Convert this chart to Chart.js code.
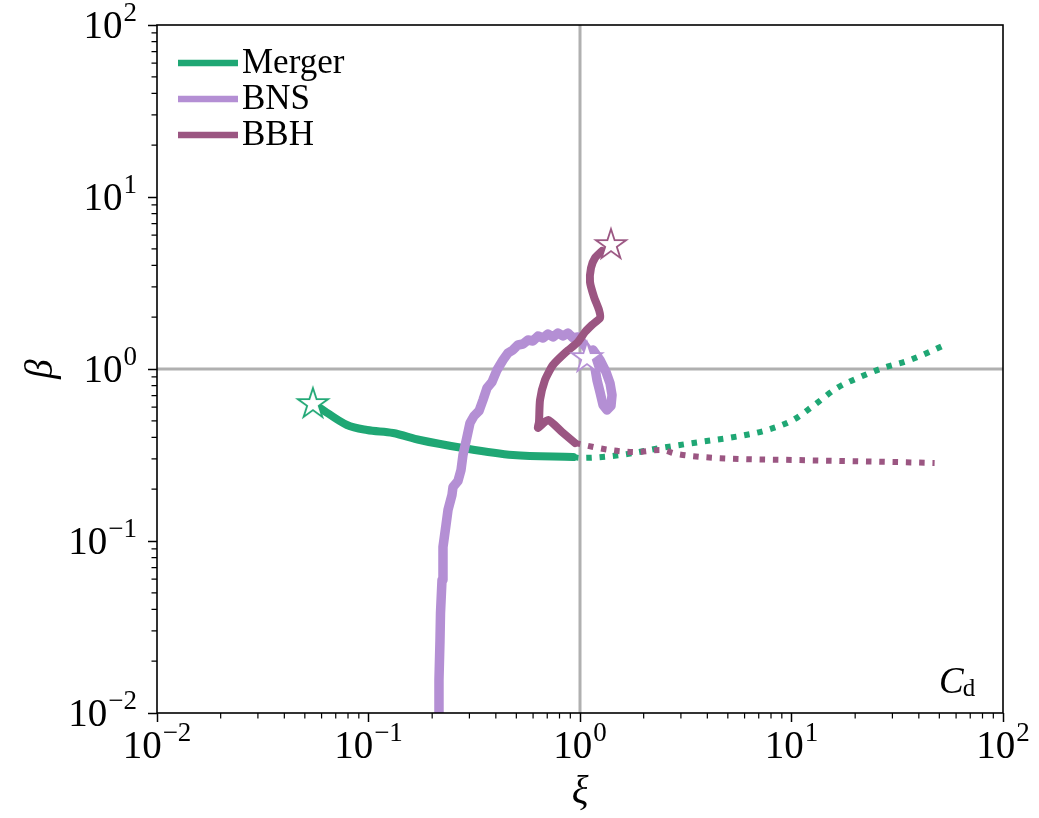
<!DOCTYPE html>
<html><head><meta charset="utf-8">
<script src="https://cdn.jsdelivr.net/npm/chart.js@4"></script>
<style>html,body{margin:0;padding:0;background:#fff;}canvas{display:block;}</style>
</head><body>
<canvas id="c" width="1039" height="818"></canvas>
<script>
// ---- data ----
const seriesNames = ['Merger', 'BNS', 'BBH'];
const mergerX = [0.059, 0.0791, 0.0984, 0.1306, 0.175, 0.2797, 0.482, 0.927];
const mergerY = [0.593, 0.4725, 0.4418, 0.4245, 0.3866, 0.3472, 0.316, 0.3077];
const mergerDotX = [0.927, 1.0, 1.546, 2.389, 3.693, 5.708, 7.658, 10.17, 12.64, 16.41, 21.08, 27.08, 36.33, 54.35];
const mergerDotY = [0.3077, 0.304, 0.316, 0.347, 0.3763, 0.4077, 0.4418, 0.5053, 0.6093, 0.775, 0.898, 1.013, 1.128, 1.398];
const bnsX = [0.2154, 0.2154, 0.2178, 0.219, 0.2226, 0.225, 0.2325, 0.2376, 0.2481, 0.2509, 0.2649, 0.2738, 0.2797, 0.2921, 0.3019, 0.3153, 0.3331, 0.3478, 0.3633, 0.3836, 0.4051, 0.4324, 0.4566, 0.482, 0.5091, 0.5377, 0.5677, 0.5995, 0.6331, 0.6685, 0.706, 0.7454, 0.787, 0.8311, 0.8776, 0.9267, 0.9784, 1.056, 1.139, 1.177, 1.203, 1.243, 1.285, 1.342, 1.401, 1.417, 1.386, 1.327, 1.243, 1.152, 1.079];
const bnsY = [0.01, 0.01555, 0.02657, 0.03815, 0.0593, 0.0923, 0.1239, 0.1514, 0.1851, 0.206, 0.2232, 0.2587, 0.3162, 0.4024, 0.4853, 0.533, 0.57, 0.6604, 0.7754, 0.8403, 0.9867, 1.128, 1.239, 1.29, 1.379, 1.398, 1.474, 1.455, 1.555, 1.514, 1.597, 1.535, 1.619, 1.555, 1.619, 1.514, 1.535, 1.361, 1.19, 1.013, 0.863, 0.735, 0.6176, 0.578, 0.6093, 0.706, 0.829, 0.961, 1.128, 1.29, 1.174];
const bbhX = [1.27, 1.177, 1.127, 1.115, 1.165, 1.23, 1.243, 1.139, 1.056, 0.978, 0.859, 0.745, 0.683, 0.647, 0.64, 0.633, 0.706, 0.822, 0.947];
const bbhY = [4.853, 4.42, 3.866, 3.204, 2.622, 2.203, 1.979, 1.803, 1.641, 1.435, 1.256, 1.055, 0.863, 0.66, 0.492, 0.454, 0.505, 0.43, 0.3713];
const bbhDotX = [0.947, 1.386, 1.86, 2.389, 2.874, 3.815, 5.897, 10.17, 17.52, 30.2, 47.5];
const bbhDotY = [0.3713, 0.338, 0.329, 0.338, 0.3205, 0.3077, 0.2996, 0.2958, 0.2919, 0.288, 0.2842];
const starX = [0.0546, 1.079, 1.401];
const starY = [0.634, 1.174, 5.33];
const tickValues = [0.01, 0.1, 1, 10, 100];
const tickExponents = ['\u22122', '\u22121', '0', '1', '2'];
const refValue = 1;
const annotationText = ['C', 'd'];

// ---- styles ----
const colors = ['#1fa774', '#b48fd4', '#9b5682'];
const SERIF = '"Liberation Serif", "DejaVu Serif", serif';
const pts = (xs, ys) => xs.map((v, i) => ({x: v, y: ys[i]}));

function makeStar(color) {
  const c = document.createElement('canvas');
  c.width = 40; c.height = 40;
  const g = c.getContext('2d');
  const R = 16, r = 16 * 0.381966;
  g.beginPath();
  for (let i = 0; i < 10; i++) {
    const rad = i % 2 === 0 ? R : r;
    const ang = -Math.PI / 2 + i * Math.PI / 5;
    const px = 20 + rad * Math.cos(ang), py = 21 + rad * Math.sin(ang);
    if (i === 0) g.moveTo(px, py); else g.lineTo(px, py);
  }
  g.closePath();
  g.fillStyle = '#fff'; g.fill();
  g.lineWidth = 1.8; g.strokeStyle = color; g.lineJoin = 'miter'; g.stroke();
  return c;
}

const lineDs = (data, color, order, opts) => Object.assign({
  data, borderColor: color, backgroundColor: color,
  borderWidth: 8, borderDash: [],
  borderCapStyle: 'round', borderJoinStyle: 'round',
  pointRadius: 0, showLine: true, fill: false, tension: 0, order
}, opts || {});

const datasets = [
  {data: [{x: refValue, y: 0.01}, {x: refValue, y: 100}], borderColor: '#b0b0b0', borderWidth: 3, pointRadius: 0, showLine: true, order: 20},
  {data: [{x: 0.01, y: refValue}, {x: 100, y: refValue}], borderColor: '#b0b0b0', borderWidth: 3, pointRadius: 0, showLine: true, order: 20},
  lineDs(pts(mergerX, mergerY), colors[0], 10, {cubicInterpolationMode: 'monotone'}),
  lineDs(pts(mergerDotX, mergerDotY), colors[0], 9, {borderWidth: 6, borderDash: [5.5, 7.8], borderCapStyle: 'butt', cubicInterpolationMode: 'monotone'}),
  lineDs(pts(bbhDotX, bbhDotY), colors[2], 8, {borderWidth: 6, borderDash: [5.5, 7.8], borderCapStyle: 'butt', cubicInterpolationMode: 'monotone'}),
  lineDs(pts(bnsX, bnsY), colors[1], 7, {borderWidth: 9.5}),
  lineDs(pts(bbhX, bbhY), colors[2], 6, {tension: 0.2}),
];
starX.forEach((sx, i) => {
  datasets.push({data: [{x: sx, y: starY[i]}], pointStyle: makeStar(colors[i]), pointRadius: 16, showLine: false, order: 0});
});

function drawTickLabel(ctx, exp, x, y, align) {
  ctx.font = '39px ' + SERIF;
  const wb = ctx.measureText('10').width;
  ctx.font = '27px ' + SERIF;
  const we = ctx.measureText(exp).width;
  const tot = wb + 1 + we;
  let left = align === 'center' ? x - tot / 2 : x - tot;
  ctx.textBaseline = 'alphabetic'; ctx.textAlign = 'left';
  ctx.font = '39px ' + SERIF;
  ctx.fillText('10', left, y);
  ctx.font = '27px ' + SERIF;
  ctx.fillText(exp, left + wb + 1, y - 17);
}

const deco = {
  id: 'deco',
  afterDraw(chart) {
    const {ctx, chartArea: a, scales: {x, y}} = chart;
    ctx.save();
    ctx.fillStyle = '#000'; ctx.strokeStyle = '#000';
    // minor ticks
    ctx.lineWidth = 1.2;
    ctx.beginPath();
    for (let e = -2; e < 2; e++) for (let m = 2; m < 10; m++) {
      const v = m * Math.pow(10, e);
      const px = x.getPixelForValue(v);
      ctx.moveTo(px, a.bottom); ctx.lineTo(px, a.bottom + 5.5);
      const py = y.getPixelForValue(v);
      ctx.moveTo(a.left, py); ctx.lineTo(a.left - 5.5, py);
    }
    ctx.stroke();
    // frame
    ctx.lineWidth = 1.6;
    ctx.strokeRect(a.left, a.top, a.right - a.left, a.bottom - a.top);
    // tick labels
    tickValues.forEach((v, i) => {
      drawTickLabel(ctx, tickExponents[i], x.getPixelForValue(v), 758, 'center');
      drawTickLabel(ctx, tickExponents[i], 137, y.getPixelForValue(v) + 13, 'right');
    });
    // legend
    ctx.textAlign = 'left'; ctx.textBaseline = 'middle';
    seriesNames.forEach((n, i) => {
      const ly = 63 + i * 36;
      ctx.strokeStyle = colors[i]; ctx.lineWidth = 6.5; ctx.lineCap = 'butt';
      ctx.beginPath(); ctx.moveTo(178, ly); ctx.lineTo(238, ly); ctx.stroke();
      ctx.font = '35px ' + SERIF; ctx.fillStyle = '#000';
      ctx.fillText(n, 242, ly + 1);
    });
    // annotation C_d
    ctx.textBaseline = 'alphabetic';
    ctx.font = 'italic 37px ' + SERIF;
    ctx.fillText(annotationText[0], 939, 693);
    const wc = ctx.measureText(annotationText[0]).width;
    ctx.font = '25px ' + SERIF;
    ctx.fillText(annotationText[1], 939 + wc - 1, 696);
    ctx.restore();
  }
};

new Chart(document.getElementById('c'), {
  type: 'scatter',
  data: {datasets},
  plugins: [deco],
  options: {
    responsive: false, animation: false, devicePixelRatio: 1,
    layout: {padding: {left: 0, right: 36, top: 25, bottom: 0}},
    plugins: {legend: {display: false}, tooltip: {enabled: false}},
    scales: {
      x: {
        type: 'logarithmic', min: 0.01, max: 100, position: 'bottom',
        afterBuildTicks: s => { s.ticks = tickValues.map(v => ({value: v})); },
        afterFit: s => { s.height = 105; },
        ticks: {display: false},
        grid: {drawOnChartArea: false, drawTicks: true, tickLength: 9, tickColor: '#000', tickWidth: 1.5},
        border: {display: false},
        title: {display: true, text: '\u03be', color: '#000', font: {family: SERIF, size: 39, style: 'italic'}, padding: {top: 0, bottom: 2}}
      },
      y: {
        type: 'logarithmic', min: 0.01, max: 100, position: 'left',
        afterBuildTicks: s => { s.ticks = tickValues.map(v => ({value: v})); },
        afterFit: s => { s.width = 157; },
        ticks: {display: false},
        grid: {drawOnChartArea: false, drawTicks: true, tickLength: 9, tickColor: '#000', tickWidth: 1.5},
        border: {display: false},
        title: {display: true, text: '\u03b2', color: '#000', font: {family: SERIF, size: 39, style: 'italic'}, padding: {top: 18, bottom: 0}}
      }
    }
  }
});
</script>
</body></html>
